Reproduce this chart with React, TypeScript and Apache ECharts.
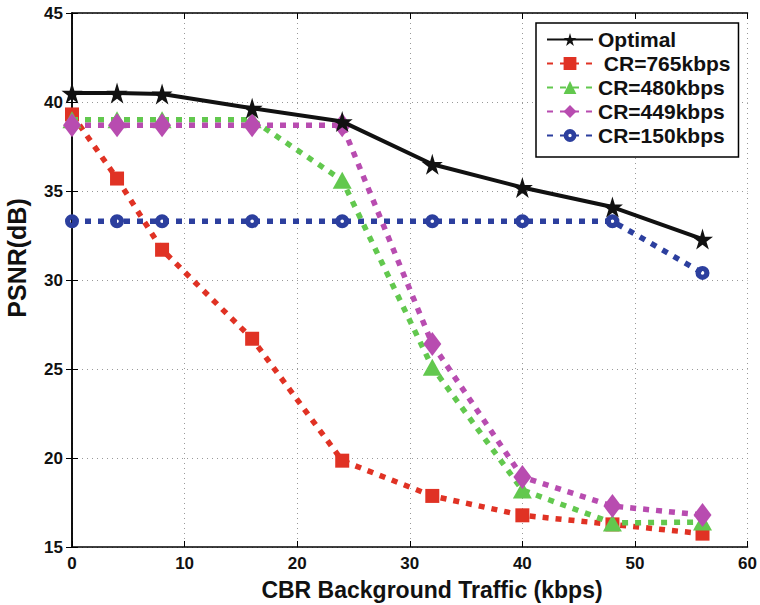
import React, { useEffect, useRef } from "react";
import * as echarts from "echarts";

const xValues = [0, 4, 8, 16, 24, 32, 40, 48, 56];
const seriesNames = ["Optimal", " CR=765kbps", "CR=480kbps", "CR=449kbps", "CR=150kbps"];
const optimal = [40.5, 40.5, 40.45, 39.65, 38.9, 36.5, 35.2, 34.1, 32.3];
const cr765 = [39.3, 35.7, 31.7, 26.7, 19.85, 17.87, 16.78, 16.27, 15.75];
const cr480 = [39.0, 39.0, 39.0, 39.0, 35.6, 25.1, 18.2, 16.35, 16.4];
const cr449 = [38.7, 38.7, 38.7, 38.7, 38.7, 26.4, 18.93, 17.3, 16.8];
const cr150 = [33.3, 33.3, 33.3, 33.3, 33.3, 33.3, 33.3, 33.3, 30.4];
const xTitle = "CBR Background Traffic (kbps)";
const yTitle = "PSNR(dB)";

const STAR = "path://M50,0 L61,35 L98,35 L68,57 L79,91 L50,70 L21,91 L32,57 L2,35 L39,35 Z";
const RING = "path://M10,0A10,10 0 1,1 -10,0A10,10 0 1,1 10,0ZM2.6,0A2.6,2.6 0 1,0 -2.6,0A2.6,2.6 0 1,0 2.6,0Z";
const FONT = "'Liberation Sans', Arial, Helvetica, sans-serif";

const pair = (ys: number[]) => xValues.map((x, i) => [x, ys[i]]);

export default function App() {
  const ref = useRef<HTMLDivElement>(null);
  useEffect(() => {
    if (!ref.current) return;
    const chart = echarts.init(ref.current, undefined, { renderer: "svg" });
    const dashed = (color: string) => ({ color, width: 5.5, type: [6, 7] as number[], cap: "butt" as const });
    const labelStyle = { fontFamily: FONT, fontWeight: "bold", fontSize: 17, color: "#111" };
    const option: any = {
      animation: false,
      backgroundColor: "#fff",
      textStyle: { fontFamily: FONT },
      grid: { left: 72, top: 13, right: 10, bottom: 58, show: false },
      graphic: [
        {
          type: "text",
          x: 432,
          y: 590,
          style: {
            text: xTitle,
            align: "center",
            verticalAlign: "middle",
            font: `bold 23px ${FONT}`,
            fill: "#111",
          },
        },
        {
          type: "text",
          x: 17,
          y: 258,
          rotation: Math.PI / 2,
          style: {
            text: yTitle,
            align: "center",
            verticalAlign: "middle",
            font: `bold 25px ${FONT}`,
            fill: "#111",
          },
        },
      ],
      legend: {
        orient: "vertical",
        left: 536,
        top: 23,
        data: seriesNames,
        backgroundColor: "#fff",
        borderColor: "#000",
        borderWidth: 1.5,
        borderRadius: 0,
        padding: [6, 8, 11, 10],
        itemWidth: 46,
        itemHeight: 16,
        itemGap: 3,
        textStyle: { fontFamily: FONT, fontWeight: "bold", fontSize: 21, color: "#111" },
      },
      xAxis: [
        {
          type: "value",
          min: 0,
          max: 60,
          interval: 10,
          axisLine: { lineStyle: { color: "#000", width: 1.5 } },
          axisTick: { inside: true, length: 6, lineStyle: { color: "#000" } },
          axisLabel: { ...labelStyle, margin: 8 },
          splitLine: { show: true, lineStyle: { color: "#999", type: [1, 4], width: 1 } },
        },
        {
          type: "value",
          position: "top",
          min: 0,
          max: 60,
          interval: 10,
          axisLine: { show: true, lineStyle: { color: "#000", width: 1.5 } },
          axisTick: { show: true, inside: true, length: 6, lineStyle: { color: "#000" } },
          axisLabel: { show: false },
          splitLine: { show: false },
        },
      ],
      yAxis: [
        {
          type: "value",
          min: 15,
          max: 45,
          interval: 5,
          axisLine: { show: true, lineStyle: { color: "#000", width: 1.5 } },
          axisTick: { show: true, inside: true, length: 6, lineStyle: { color: "#000" } },
          axisLabel: { ...labelStyle, margin: 9 },
          splitLine: { show: true, lineStyle: { color: "#999", type: [1, 4], width: 1 } },
        },
        {
          type: "value",
          position: "right",
          min: 15,
          max: 45,
          interval: 5,
          axisLine: { show: true, lineStyle: { color: "#000", width: 1.5 } },
          axisTick: { show: true, inside: true, length: 6, lineStyle: { color: "#000" } },
          axisLabel: { show: false },
          splitLine: { show: false },
        },
      ],
      series: [
        {
          name: seriesNames[4],
          type: "line",
          data: pair(cr150),
          symbol: RING,
          symbolSize: 14,
          itemStyle: { color: "#2c3f9e" },
          lineStyle: dashed("#2c3f9e"),
          z: 2,
        },
        {
          name: seriesNames[1],
          type: "line",
          data: pair(cr765),
          symbol: "rect",
          symbolSize: 14,
          itemStyle: { color: "#e03224" },
          lineStyle: dashed("#e03224"),
          z: 3,
        },
        {
          name: seriesNames[2],
          type: "line",
          data: pair(cr480),
          symbol: "triangle",
          symbolSize: [19, 17],
          itemStyle: { color: "#62c84e" },
          lineStyle: dashed("#62c84e"),
          z: 4,
        },
        {
          name: seriesNames[3],
          type: "line",
          data: pair(cr449),
          symbol: "diamond",
          symbolSize: [18, 24],
          itemStyle: { color: "#b84cb0" },
          lineStyle: dashed("#b84cb0"),
          z: 5,
        },
        {
          name: seriesNames[0],
          type: "line",
          data: pair(optimal),
          symbol: STAR,
          symbolSize: 21,
          itemStyle: { color: "#111" },
          lineStyle: { color: "#111", width: 4 },
          z: 6,
        },
      ],
    };
    chart.setOption(option);
    return () => chart.dispose();
  }, []);
  return (
    <div
      ref={ref}
      style={{ position: "fixed", left: 0, top: 0, width: 760, height: 605, background: "#fff" }}
    />
  );
}
